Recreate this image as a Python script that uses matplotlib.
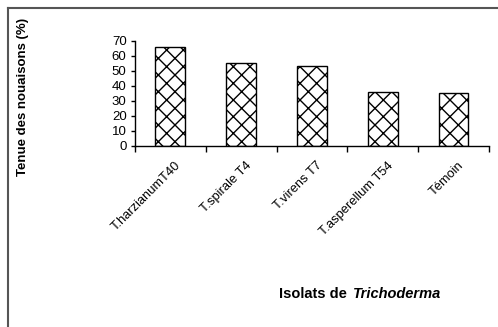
import matplotlib
matplotlib.use("Agg")
import matplotlib.pyplot as plt
import numpy as np
from matplotlib.lines import Line2D

plt.rcParams['font.family'] = ['Liberation Sans', 'DejaVu Sans']
plt.rcParams['hatch.linewidth'] = 1.0

# isolates and fruit set retention (%)
isolats = ['T.harzianumT40', 'T.spirale T4', 'T.virens T7', 'T.asperellum T54', 'Témoin']
tenue = [65.5, 55.3, 53.4, 35.6, 35.0]
yticks = [0, 10, 20, 30, 40, 50, 60, 70]

fig = plt.figure(figsize=(4.98, 3.27), dpi=100)
ax = fig.add_axes([0.271, 0.5545, 0.711, 0.321])

x = np.arange(len(isolats))
ax.bar(x, tenue, width=0.42, color='white', edgecolor='black',
       linewidth=1.0, hatch='xx', zorder=2)

ax.set_xlim(-0.5, len(isolats) - 0.5)
ax.set_ylim(0, 70)
ax.set_yticks(yticks)

# ticks at category boundaries, labels at centres
ax.set_xticks(np.arange(len(isolats) + 1) - 0.5)
ax.set_xticklabels([])
ax.set_xticks(x + 0.06, minor=True)
ax.set_xticklabels(isolats, minor=True, rotation=45, ha='right', va='top',
                   rotation_mode='anchor', fontsize=9.3)
ax.tick_params(axis='x', which='minor', length=0, pad=10)
ax.tick_params(axis='x', which='major', length=4, direction='out', width=1)
ax.tick_params(axis='y', length=3, direction='out', width=1, labelsize=9.5, pad=3)

for s in ['top', 'right']:
    ax.spines[s].set_visible(False)
for s in ['left', 'bottom']:
    ax.spines[s].set_linewidth(1.0)

fig.text(0.047, 0.703, 'Tenue des nouaisons (%)', rotation=90,
         ha='center', va='center', fontsize=9.5, fontweight='bold')
fig.text(0.697, 0.102, 'Isolats de', ha='right', va='center',
         fontsize=10.5, fontweight='bold')
fig.text(0.709, 0.102, 'Trichoderma', ha='left', va='center',
         fontsize=10.5, fontweight='bold', fontstyle='italic')

# frame (top and left edges)
fig.add_artist(Line2D([0.016, 1.0], [0.975, 0.975], color='#555555', lw=1.5))
fig.add_artist(Line2D([0.016, 0.016], [0.0, 0.975], color='#555555', lw=1.5))

fig.savefig('out.png', dpi=100)
